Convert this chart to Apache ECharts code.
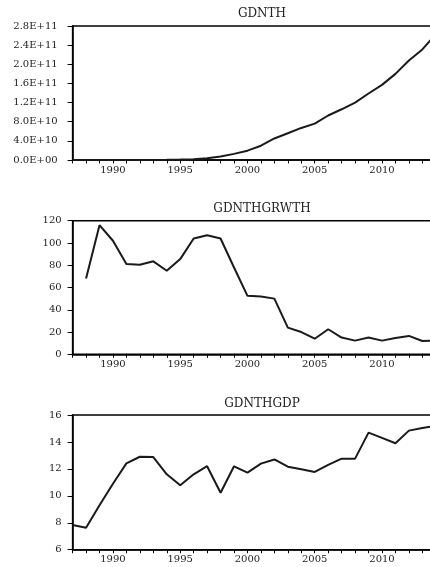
<!DOCTYPE html>
<html>
<head>
<meta charset="utf-8">
<script src="https://cdn.jsdelivr.net/npm/echarts@6/dist/echarts.min.js"></script>
<style>
html,body{margin:0;padding:0;background:#fff;}
#c{width:430px;height:567px;}
</style>
</head>
<body>
<div id="c"></div>
<script>
var titles = ['GDNTH', 'GDNTHGRWTH', 'GDNTHGDP'];
var years = [1987,1988,1989,1990,1991,1992,1993,1994,1995,1996,1997,1998,1999,2000,2001,2002,2003,2004,2005,2006,2007,2008,2009,2010,2011,2012,2013,2014];
var gdnth = [5e6,1.0e7,2.2e7,4.4e7,7.9e7,1.43e8,2.6e8,4.6e8,8.5e8,1.74e9,3.6e9,7.4e9,1.28e10,1.95e10,2.98e10,4.5e10,5.6e10,6.7e10,7.6e10,9.3e10,1.06e11,1.2e11,1.39e11,1.57e11,1.8e11,2.08e11,2.31e11,2.63e11];
var growthYears = years.slice(1);
var growth = [68,116,102,81,80.5,83.5,75,85.5,104,107,104,78,52.5,52,50,24,20,14,22.5,15,12.3,15,12.3,14.7,16.5,12,12.3];
var gdpRatio = [7.83,7.63,9.3,10.9,12.41,12.9,12.88,11.6,10.78,11.6,12.2,10.23,12.19,11.72,12.39,12.7,12.16,11.97,11.77,12.3,12.76,12.76,14.69,14.3,13.9,14.84,15.03,15.2];
var xLabelYears = [1990,1995,2000,2005,2010];

function pairs(xs, ys){ return xs.map(function(x,i){ return [x, ys[i]]; }); }
function sci(v){
  var s = v.toExponential(1).replace('e','E');
  var m = s.match(/^(.*E)([+-])(\d+)$/);
  if (!m) return s;
  var e = m[3].length < 2 ? '0' + m[3] : m[3];
  return m[1] + m[2] + e;
}

var FONT = 'DejaVu Serif';
var gridTops = [26, 220.7, 415];
var gridH = [134, 133.6, 134.7];
var yCfg = [
  {min:0, max:2.8e11, interval:4e10, fmt: sci, margin: 15},
  {min:0, max:120, interval:20, fmt: function(v){return String(v);}, margin: 11},
  {min:6, max:16, interval:2, fmt: function(v){return String(v);}, margin: 11}
];
var seriesData = [pairs(years, gdnth), pairs(growthYears, growth), pairs(years, gdpRatio)];
var titleTops = [3, 198, 393];

var grids = [], xAxes = [], yAxes = [], series = [], titleOpts = [];
for (var i = 0; i < 3; i++) {
  grids.push({left: 72.6, width: 363.2, top: gridTops[i], height: gridH[i], outerBoundsMode: 'none', containLabel: false, show: true, borderColor: '#000', borderWidth: 1.5, backgroundColor: 'transparent'});
  xAxes.push({
    type: 'value', gridIndex: i, min: 1987, max: 2014, interval: 1,
    axisLine: {show: true, onZero: false, lineStyle: {color: '#000', width: 1.5}},
    axisTick: {show: true, length: 3.5, lineStyle: {color: '#000', width: 1}},
    splitLine: {show: false},
    axisLabel: {
      color: '#222', fontFamily: FONT, fontSize: 10, margin: 5,
      formatter: function(v){ return xLabelYears.indexOf(v) >= 0 ? String(v) : ''; }
    }
  });
  yAxes.push({
    type: 'value', gridIndex: i, min: yCfg[i].min, max: yCfg[i].max, interval: yCfg[i].interval,
    axisLine: {show: true, lineStyle: {color: '#000', width: 1.5}},
    axisTick: {show: true, length: 5, lineStyle: {color: '#000', width: 1}},
    splitLine: {show: false},
    axisLabel: {color: '#222', fontFamily: FONT, fontSize: 10, margin: yCfg[i].margin, formatter: yCfg[i].fmt}
  });
  series.push({
    type: 'line', xAxisIndex: i, yAxisIndex: i, data: seriesData[i],
    showSymbol: false, symbol: 'none', clip: true,
    lineStyle: {color: '#1a1a1a', width: 2}
  });
  titleOpts.push({
    text: titles[i], left: 257, top: titleTops[i], textAlign: 'center',
    textStyle: {fontFamily: FONT, fontSize: 12, fontWeight: 'normal', color: '#222'}
  });
}

var chart = echarts.init(document.getElementById('c'));
chart.setOption({
  animation: false,
  backgroundColor: '#fff',
  title: titleOpts,
  grid: grids,
  xAxis: xAxes,
  yAxis: yAxes,
  series: series
});
</script>
</body>
</html>
